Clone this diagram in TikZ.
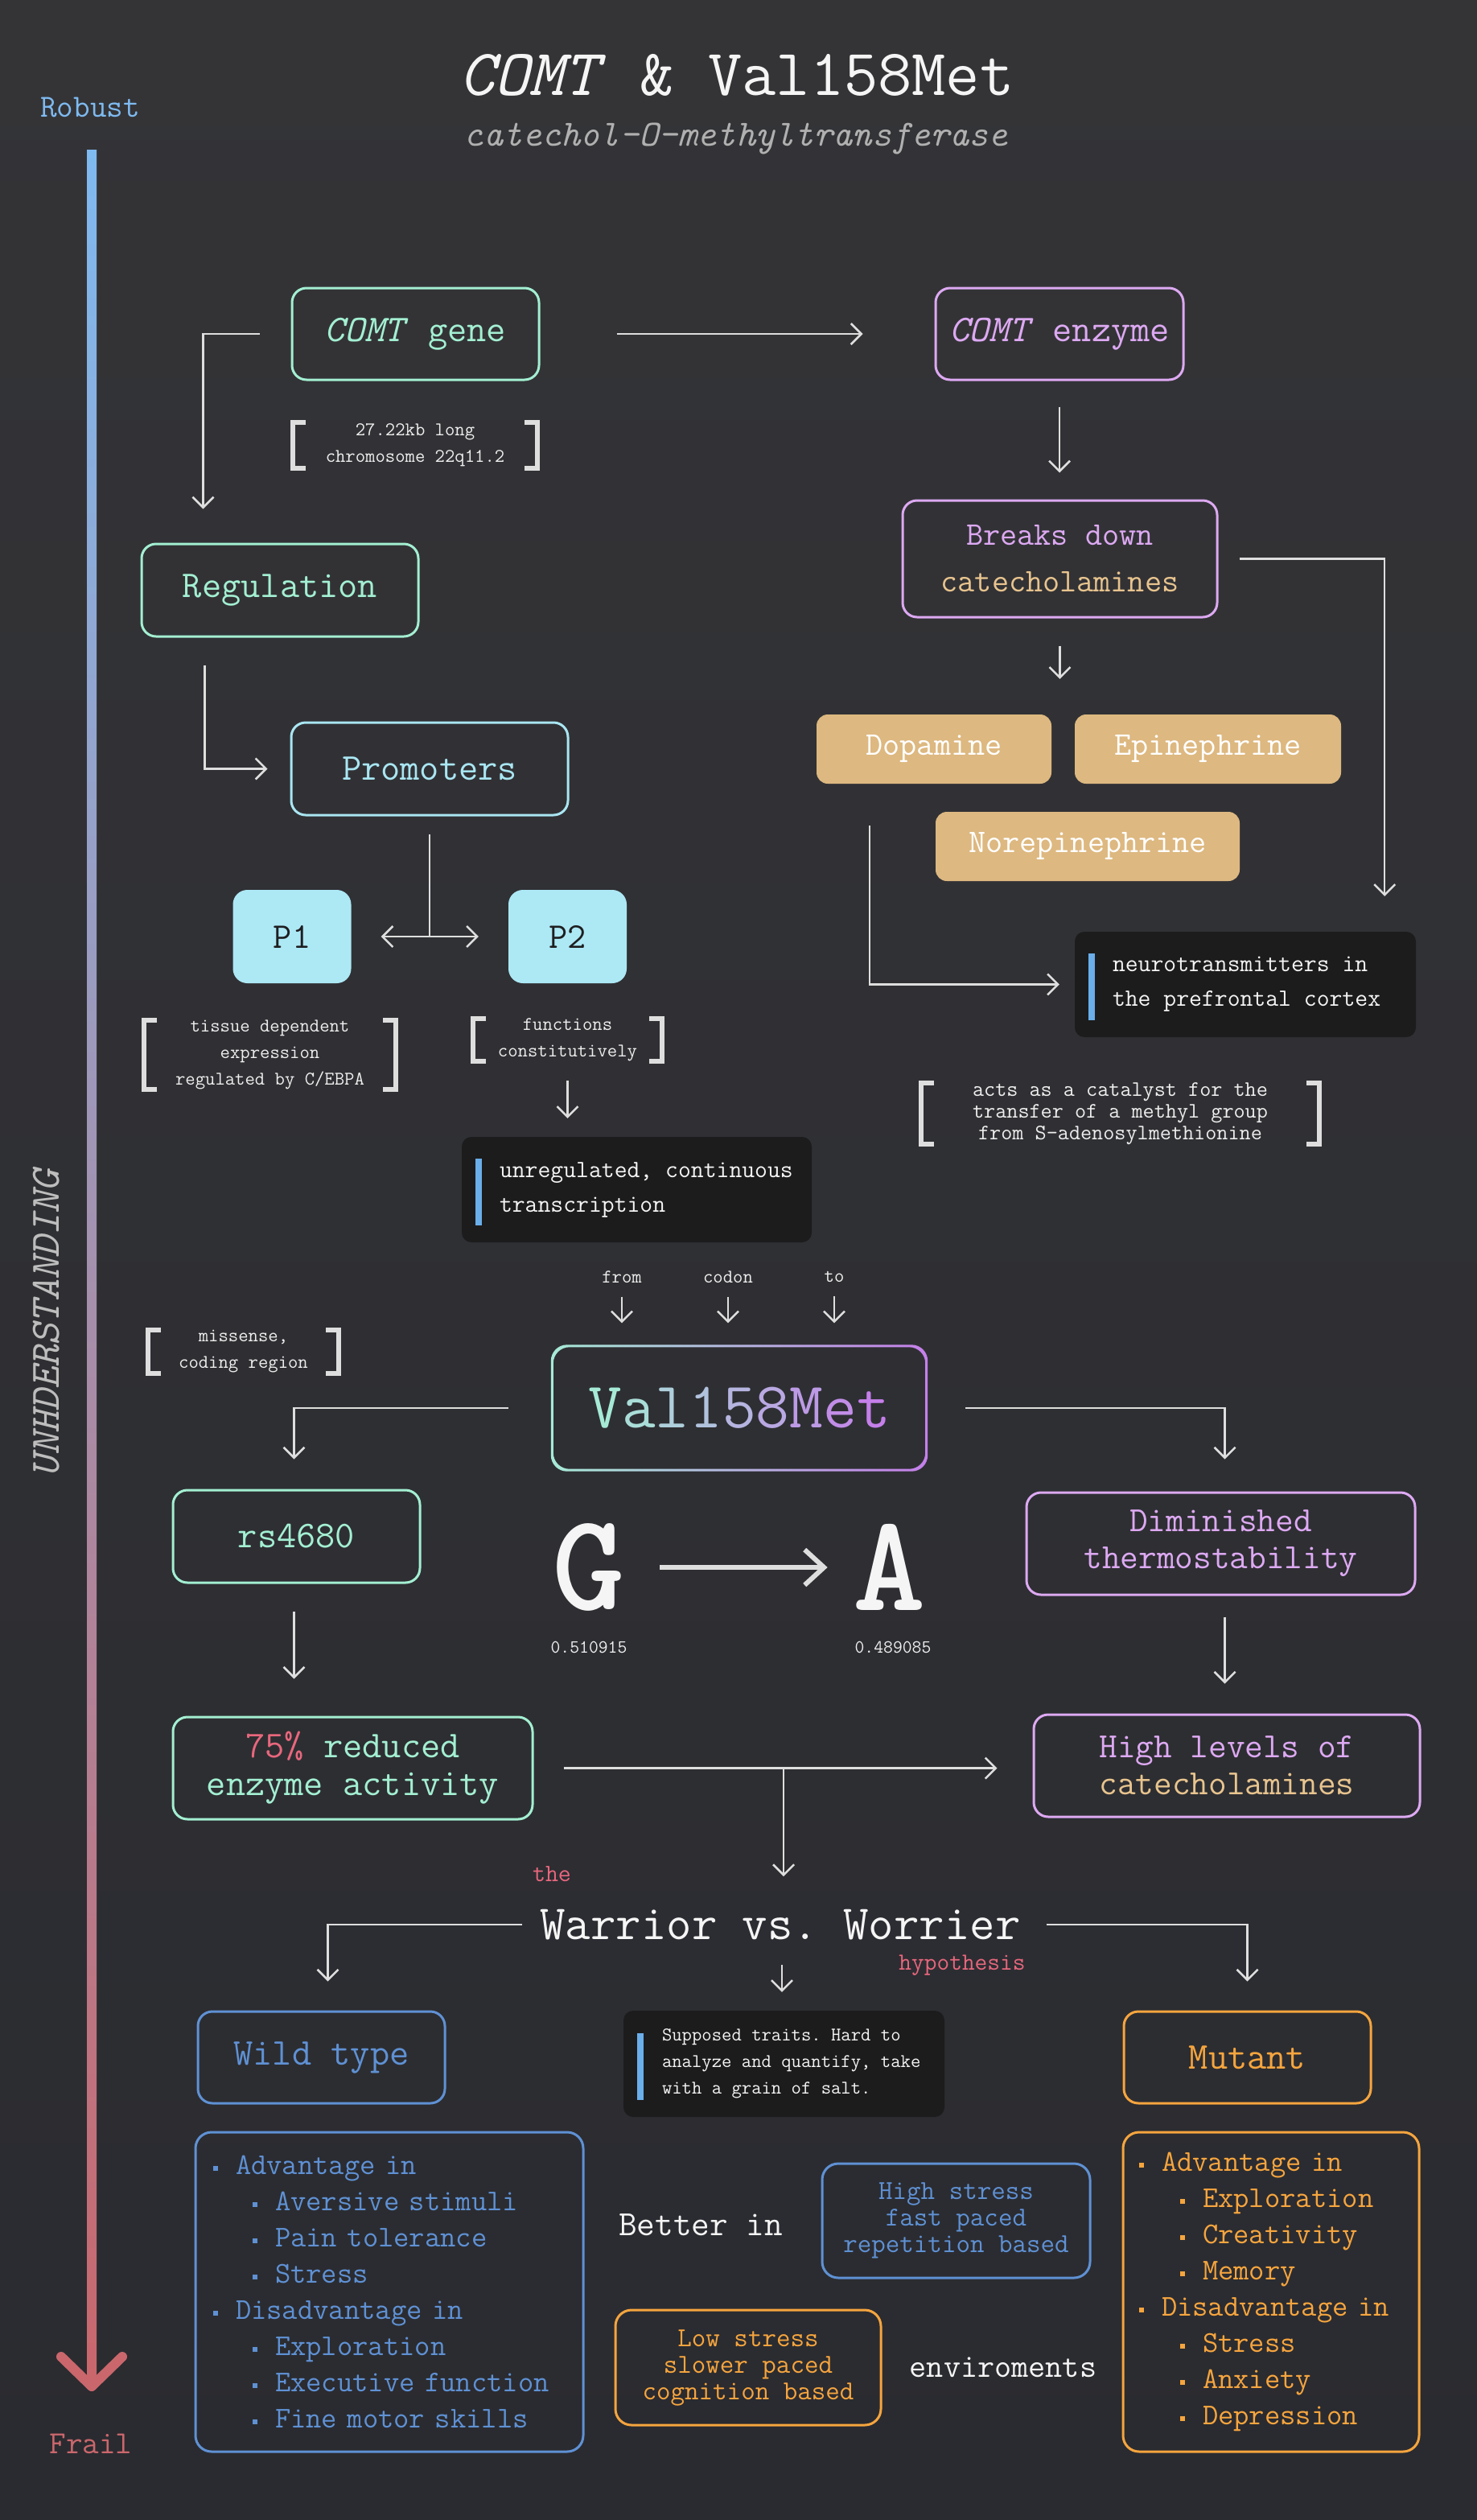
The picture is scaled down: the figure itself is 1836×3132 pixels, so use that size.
\documentclass[tikz,border=0pt]{standalone}
\usepackage{tikz}
\usetikzlibrary{arrows.meta, positioning}

\definecolor{bgtop}{HTML}{343437}
\definecolor{bgbot}{HTML}{2A2B30}
\definecolor{mint}{HTML}{A3EFD2}
\definecolor{lilac}{HTML}{DDA9F2}
\definecolor{aqua}{HTML}{A9E6F2}
\definecolor{pfill}{HTML}{ADE8F5}
\definecolor{pdark}{HTML}{1E1E20}
\definecolor{chemtan}{HTML}{DDB880}
\definecolor{tantext}{HTML}{E8C48E}
\definecolor{barblue}{HTML}{6AAEEA}
\definecolor{hypopink}{HTML}{E8677D}
\definecolor{wblue}{HTML}{5F91D4}
\definecolor{mutorange}{HTML}{F6A53E}
\definecolor{linegray}{HTML}{DEDEDE}
\definecolor{darkfill}{HTML}{1C1C1D}
\definecolor{notewhite}{HTML}{EEEEEE}
\definecolor{titlewhite}{HTML}{F5F5F5}
\definecolor{subgray}{HTML}{B0B0B0}
\definecolor{undgray}{HTML}{BDBDBD}
\definecolor{valstart}{HTML}{A6EAD6}
\definecolor{valend}{HTML}{C57FEA}
\definecolor{axtop}{HTML}{7FBAF0}
\definecolor{axmid}{HTML}{A0A0C8}
\definecolor{axbot}{HTML}{C9676C}

\tikzset{
>={Straight Barb[length=13pt,width=26pt]}, % open arrow heads
conn/.style={draw=linegray, line width=2.5pt}, % every connector
box/.style={draw, rounded corners=18pt, line width=3pt, inner sep=0pt, align=center,
  font=\ttfamily\fontsize{47}{56}\selectfont}, % outlined boxes
pbox/.style={fill=pfill, rounded corners=18pt, minimum width=147pt, minimum height=116pt,
  inner sep=0pt, text=pdark, font=\ttfamily\fontsize{45}{45}\selectfont}, % promoter tiles
chem/.style={fill=chemtan, rounded corners=14pt, minimum height=86pt, inner sep=0pt,
  text=white, font=\ttfamily\fontsize{41}{41}\selectfont}, % catecholamine tiles
darkbox/.style={fill=darkfill, rounded corners=12pt, inner sep=0pt}, % callouts
darktext/.style={inner sep=0pt, align=left, text=titlewhite,
  font=\ttfamily\fontsize{30.8}{43}\selectfont},
bar/.style={draw=barblue, line width=8pt}, % callout side bar
note/.style={inner sep=0pt, align=center, text=notewhite,
  font=\ttfamily\fontsize{24}{33}\selectfont}, % bracketed notes
brk/.style={draw=linegray, line width=6pt},
small/.style={inner sep=0pt, text=notewhite, font=\ttfamily\fontsize{24}{24}\selectfont},
plain/.style={inner sep=0pt, text=titlewhite},
listbox/.style={draw, rounded corners=20pt, line width=3pt, minimum height=397pt,
  inner xsep=22pt, inner ysep=0pt, align=left,
  font=\ttfamily\fontsize{37.5}{45}\selectfont},
}

\newcommand{\brackets}[1]{%
  \draw[brk] ([xshift=16pt]#1.north west) -- (#1.north west) -- (#1.south west) -- ([xshift=16pt]#1.south west);
  \draw[brk] ([xshift=-16pt]#1.north east) -- (#1.north east) -- (#1.south east) -- ([xshift=-16pt]#1.south east);
}
\newcommand{\sqb}{\rule[5pt]{6pt}{6pt}\hspace{22pt}}

\begin{document}
\begin{tikzpicture}[x=1pt, y=-1pt]
  % background
  \shade[top color=bgtop, bottom color=bgbot] (0,0) rectangle (1836,3132);
  \useasboundingbox (0,0) rectangle (1836,3132);

  % understanding axis
  \shade[top color=axtop, middle color=axmid, bottom color=axbot] (108,186) rectangle (120,2962);
  \draw[axbot, line width=12pt, line cap=round, line join=round] (76,2929) -- (114,2966) -- (152,2929);
  \node[plain, text=axtop, anchor=base, font=\ttfamily\fontsize{40}{40}\selectfont] (robust) at (112,145) {Robust};
  \node[plain, text=axbot, anchor=base, font=\ttfamily\fontsize{40}{40}\selectfont] (frail) at (113,3049) {Frail};
  \node[plain, text=undgray, rotate=90, font=\ttfamily\itshape\fontsize{52}{52}\selectfont] (und) at (58,1645) {UNHDERSTANDING};

  % title
  \node[plain, anchor=base, font=\ttfamily\fontsize{82}{82}\selectfont] (title) at (916,118) {\textit{COMT} \& Val158Met};
  \node[plain, text=subgray, anchor=base, font=\ttfamily\itshape\fontsize{46}{46}\selectfont] (subtitle) at (915,181) {catechol-O-methyltransferase};

  % gene side
  \node[box, draw=mint, text=mint, minimum width=307pt, minimum height=114pt] (gene) at (516.5,415) {\textit{COMT} gene};
  \node[note, minimum width=304pt, minimum height=57pt] (length) at (516,553.5) {27.22kb long\\chromosome 22q11.2};
  \brackets{length}
  \node[box, draw=mint, text=mint, minimum width=344pt, minimum height=115pt] (reg) at (348,733.5) {Regulation};
  \node[box, draw=aqua, text=aqua, minimum width=344pt, minimum height=115pt] (prom) at (534,955.5) {Promoters};
  \node[pbox] (p1) at (363,1164) {P1};
  \node[pbox] (p2) at (705.5,1164) {P2};
  \node[note, minimum width=313pt, minimum height=70pt] (tissue) at (335.5,1311) {tissue dependent\\expression\\regulated by C/EBPA};
  \brackets{tissue}
  \node[note, minimum width=235pt, minimum height=51pt] (func) at (705.5,1292.5) {functions\\constitutively};
  \brackets{func}
  \node[darkbox, minimum width=435pt, minimum height=131pt] (unreg) at (791.5,1478.5) {};
  \node[darktext, anchor=west] (unregtxt) at ([xshift=47pt]unreg.west) {unregulated, continuous\\transcription};
  \draw[bar] ([xshift=21pt, yshift=-27pt]unreg.north west) -- ([xshift=21pt, yshift=21pt]unreg.south west);

  % enzyme side
  \node[box, draw=lilac, text=lilac, minimum width=308pt, minimum height=114pt] (enzyme) at (1317,415) {\textit{COMT} enzyme};
  \node[box, draw=lilac, minimum width=391pt, minimum height=145pt, font=\ttfamily\fontsize{41}{58}\selectfont] (breaks) at (1317.5,694.5)
    {\textcolor{lilac}{Breaks down}\\\textcolor{tantext}{catecholamines}};
  \node[chem, minimum width=292pt] (dopa) at (1161,931) {Dopamine};
  \node[chem, minimum width=331pt] (epi) at (1501.5,931) {Epinephrine};
  \node[chem, minimum width=378pt] (norepi) at (1352,1052) {Norepinephrine};
  \node[darkbox, minimum width=424pt, minimum height=131pt] (neuro) at (1548,1223.5) {};
  \node[darktext, anchor=west] (neurotxt) at ([xshift=47pt]neuro.west) {neurotransmitters in\\the prefrontal cortex};
  \draw[bar] ([xshift=21pt, yshift=-27pt]neuro.north west) -- ([xshift=21pt, yshift=21pt]neuro.south west);
  \node[note, minimum width=495pt, minimum height=68pt, font=\ttfamily\fontsize{27.4}{26.7}\selectfont] (catalyst) at (1392.5,1384)
    {acts as a catalyst for the\\transfer of a methyl group\\from S-adenosylmethionine};
  \brackets{catalyst}

  % variant
  \node[small] (cfrom) at (773,1587) {from};
  \node[small] (ccodon) at (905,1587) {codon};
  \node[small] (cto) at (1037,1587) {to};
  \node[note, minimum width=237pt, minimum height=50pt] (missense) at (302.5,1680) {missense,\\coding region};
  \brackets{missense}
  \node[inner sep=0pt, minimum width=468pt, minimum height=157pt, font=\ttfamily\fontsize{81}{81}\selectfont] (val) at (919,1750)
    {{\color{valstart}V}{\color{valend!12!valstart}a}{\color{valend!25!valstart}l}{\color{valend!37!valstart}1}{\color{valend!50!valstart}5}{\color{valend!62!valstart}8}{\color{valend!75!valstart}M}{\color{valend!87!valstart}e}{\color{valend}t}};
  \shade[left color=valstart, right color=valend, even odd rule, rounded corners=20pt]
    (val.south west) rectangle (val.north east)
    ([shift={(3pt,3pt)}]val.south west) rectangle ([shift={(-3pt,-3pt)}]val.north east);
  \node[box, draw=mint, text=mint, minimum width=307pt, minimum height=115pt] (rs) at (368.5,1909.5) {rs4680};
  \node[plain, font=\ttfamily\bfseries\fontsize{172}{172}\selectfont] (gbase) at (732,1948) {G};
  \node[plain, font=\ttfamily\bfseries\fontsize{172}{172}\selectfont] (abase) at (1106,1948) {A};
  \node[small, font=\ttfamily\fontsize{23}{23}\selectfont] (gfreq) at (732,2047) {0.510915};
  \node[small, font=\ttfamily\fontsize{23}{23}\selectfont] (afreq) at (1110,2047) {0.489085};
  \node[box, draw=lilac, text=lilac, minimum width=483pt, minimum height=127pt, font=\ttfamily\fontsize{44}{46}\selectfont] (dim) at (1517.5,1918.5)
    {Diminished\\thermostability};
  \node[box, draw=mint, text=mint, minimum width=447pt, minimum height=127pt, font=\ttfamily\fontsize{47}{47}\selectfont] (reduced) at (438.5,2197.5)
    {\textcolor{hypopink}{75\%} reduced\\enzyme activity};
  \node[box, draw=lilac, minimum width=480pt, minimum height=127pt, font=\ttfamily\fontsize{44}{46}\selectfont] (high) at (1525,2194.5)
    {\textcolor{lilac}{High levels of}\\\textcolor{tantext}{catecholamines}};

  % hypothesis
  \node[plain, font=\ttfamily\fontsize{61}{61}\selectfont] (war) at (970,2392) {Warrior vs.\ Worrier};
  \node[plain, text=hypopink, font=\ttfamily\fontsize{31}{31}\selectfont] (the) at (686,2329) {the};
  \node[plain, text=hypopink, anchor=base, font=\ttfamily\fontsize{30.5}{30.5}\selectfont] (hypo) at (1196,2448) {hypothesis};
  \node[box, draw=wblue, text=wblue, minimum width=307pt, minimum height=114pt] (wild) at (399.5,2557) {Wild type};
  \node[box, draw=mutorange, text=mutorange, minimum width=307pt, minimum height=114pt] (mutant) at (1550.5,2557) {Mutant};
  \node[darkbox, minimum width=399pt, minimum height=132pt] (supp) at (974.5,2565) {};
  \node[darktext, anchor=west, font=\ttfamily\fontsize{24}{33}\selectfont] (supptxt) at ([xshift=48pt]supp.west)
    {Supposed traits.\ Hard to\\analyze and quantify, take\\with a grain of salt.};
  \draw[bar] ([xshift=21pt, yshift=-28pt]supp.north west) -- ([xshift=21pt, yshift=21pt]supp.south west);

  \node[listbox, draw=wblue, text=wblue, text width=438pt] (wlist) at (484,2848.5)
    {\sqb Advantage in\\
     \hspace*{49pt}\sqb Aversive stimuli\\
     \hspace*{49pt}\sqb Pain tolerance\\
     \hspace*{49pt}\sqb Stress\\
     \sqb Disadvantage in\\
     \hspace*{49pt}\sqb Exploration\\
     \hspace*{49pt}\sqb Executive function\\
     \hspace*{49pt}\sqb Fine motor skills};
  \node[listbox, draw=mutorange, text=mutorange, inner xsep=20pt, text width=328pt] (mlist) at (1580,2848.5)
    {\sqb Advantage in\\
     \hspace*{51pt}\sqb Exploration\\
     \hspace*{51pt}\sqb Creativity\\
     \hspace*{51pt}\sqb Memory\\
     \sqb Disadvantage in\\
     \hspace*{51pt}\sqb Stress\\
     \hspace*{51pt}\sqb Anxiety\\
     \hspace*{51pt}\sqb Depression};

  \node[plain, font=\ttfamily\fontsize{44}{44}\selectfont] (better) at (871,2765) {Better in};
  \node[box, draw=wblue, text=wblue, rounded corners=20pt, minimum width=333pt, minimum height=142pt, font=\ttfamily\fontsize{34}{33}\selectfont] (highstress) at (1188.5,2760)
    {High stress\\fast paced\\repetition based};
  \node[box, draw=mutorange, text=mutorange, rounded corners=20pt, minimum width=330pt, minimum height=143pt, font=\ttfamily\fontsize{34}{33}\selectfont] (lowstress) at (930,2942.5)
    {Low stress\\slower paced\\cognition based};
  \node[plain, font=\ttfamily\fontsize{41}{41}\selectfont] (env) at (1247,2942) {enviroments};

  % connectors
  \draw[conn, ->] ([xshift=95pt]gene.east) -- ([xshift=-89pt]enzyme.west);
  \draw[conn, ->] ([xshift=-39pt]gene.west) -| ([xshift=78pt, yshift=42pt]reg.north west);
  \draw[conn, ->] ([xshift=80pt, yshift=-34pt]reg.south west) |- ([xshift=-28pt]prom.west);
  \coordinate (split) at (534,1164);
  \draw[conn] ([yshift=-22pt]prom.south) -- (split);
  \draw[conn, <->] ([xshift=37pt]p1.east) -- ([xshift=-37pt]p2.west);
  \draw[conn, ->] ([yshift=-24pt]func.south) -- ([yshift=23pt]func.south |- unreg.north);

  \draw[conn, ->] ([yshift=-32pt]enzyme.south) -- ([yshift=33pt]enzyme.south |- breaks.north);
  \draw[conn, ->] ([xshift=26pt]breaks.east) -| ([xshift=-39pt, yshift=44pt]neuro.north east);
  \draw[conn, ->] ([yshift=-34pt]breaks.south) -- ([yshift=44pt]breaks.south |- dopa.north);
  \draw[conn, ->] ([xshift=66pt, yshift=-52pt]dopa.south west) |- ([xshift=-19pt]neuro.west);

  \foreach \lab in {cfrom, ccodon, cto}
    \draw[conn, ->] ([yshift=-17pt]\lab.south) -- ([yshift=27pt]\lab.south |- val.north);
  \draw[conn, ->] ([xshift=-53pt]val.west) -| ([xshift=-3pt, yshift=37pt]rs.north);
  \draw[conn, ->] ([xshift=47pt]val.east) -| ([xshift=5pt, yshift=40pt]dim.north);
  \draw[conn, line width=6pt, -{Straight Barb[length=24pt,width=44pt]}] ([xshift=43pt]gbase.east) -- ([xshift=-32pt]abase.west);
  \draw[conn, ->] ([xshift=-3pt, yshift=-34pt]rs.south) -- ([xshift=-3pt, yshift=46pt]rs.south |- reduced.north);
  \draw[conn, ->] ([xshift=5pt, yshift=-26pt]dim.south) -- ([xshift=5pt, yshift=37pt]dim.south |- high.north);
  \draw[conn, ->] ([xshift=37pt]reduced.east) -- ([xshift=-44pt]high.west |- reduced.east);
  \coordinate (branch) at (974,2197.5);
  \coordinate (warin) at (974,2332);
  \draw[conn, ->] (branch) -- (warin);

  \draw[conn, ->] ([xshift=-22pt]war.west) -| ([xshift=8pt, yshift=36pt]wild.north);
  \draw[conn, ->] ([xshift=32pt]war.east) -| ([yshift=36pt]mutant.north);
  \draw[conn, ->] ([xshift=2pt, yshift=-31pt]war.south) -- ([xshift=2pt, yshift=23pt]war.south |- supp.north);
\end{tikzpicture}
\end{document}
